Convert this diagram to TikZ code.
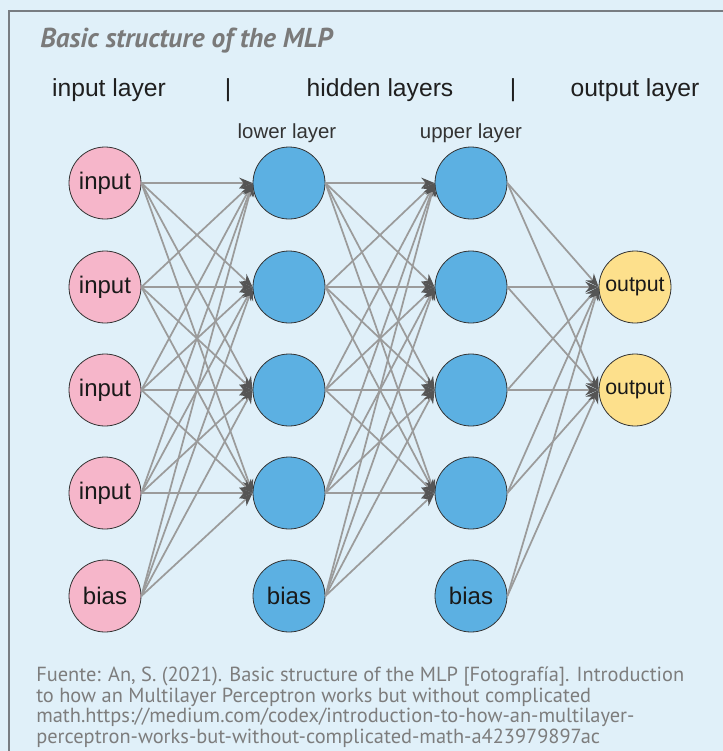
\documentclass[tikz,border=0pt]{standalone}
\usepackage{fontspec}
\setmainfont{Liberation Sans}
\newfontfamily\ptsans{PT Sans}
\usetikzlibrary{arrows.meta}
\definecolor{bgcol}{RGB}{224,240,249}
\definecolor{framecol}{RGB}{120,125,130}
\definecolor{pinkcol}{RGB}{246,182,202}
\definecolor{bluecol}{RGB}{92,176,226}
\definecolor{yellowcol}{RGB}{253,224,140}
\definecolor{edgecol}{RGB}{155,155,155}
\definecolor{tipcol}{RGB}{85,85,85}
\definecolor{txtgray}{RGB}{125,125,125}
\definecolor{titlegray}{RGB}{122,122,122}
\begin{document}
\begin{tikzpicture}[x=0.75pt,y=-0.75pt,
  neuron/.style={circle, draw=black!80, line width=0.6pt, minimum size=54pt, inner sep=0pt, text=black!90, font=\fontsize{18}{20}\selectfont},
  inneuron/.style={neuron, fill=pinkcol},
  hidneuron/.style={neuron, fill=bluecol},
  outneuron/.style={neuron, fill=yellowcol, font=\fontsize{16}{18}\selectfont},
  edge/.style={draw=edgecol, line width=1.3pt, -{Stealth[length=10pt,width=8pt,color=tipcol]}},
  header/.style={font=\fontsize{18.5}{20}\selectfont, text=black!88, inner sep=0pt},
  subheader/.style={font=\fontsize{15.3}{17}\selectfont, text=black!80, inner sep=0pt}
]
\fill[bgcol] (0,0) rectangle (723,751);
\useasboundingbox (0,0) rectangle (723,751);
\draw[framecol, line width=1.2pt] (723,11) -- (9,11) -- (9,751);

\node[anchor=west, inner sep=0pt, text=titlegray, font=\ptsans\bfseries\itshape\fontsize{20.5}{22}\selectfont] (title) at (40,41) {Basic structure of the MLP};

\node[header] (hin) at (109,90) {input layer};
\node[header] (sep1) at (228,90) {|};
\node[header] (hhid) at (380,90) {hidden layers};
\node[header] (sep2) at (513,90) {|};
\node[header] (hout) at (635,90) {output layer};
\node[subheader] (hlow) at (287,133) {lower layer};
\node[subheader] (hup) at (471,133) {upper layer};

\foreach \k/\y in {1/183,2/287,3/390,4/493}{
  \node[inneuron] (a\k) at (105,\y) {input};
  \node[hidneuron] (b\k) at (289,\y) {};
  \node[hidneuron] (c\k) at (471,\y) {};
}
\node[inneuron] (a5) at (105,596) {bias};
\node[hidneuron] (b5) at (289,596) {bias};
\node[hidneuron] (c5) at (471,596) {bias};
\node[outneuron] (d1) at (635,287) {output};
\node[outneuron] (d2) at (635,390) {output};

\foreach \i in {1,...,5}{
  \foreach \j in {1,...,4}{
    \draw[edge] (a\i.east) -- (b\j.west);
    \draw[edge] (b\i.east) -- (c\j.west);
  }
  \foreach \j in {1,2}{
    \draw[edge] (c\i.east) -- (d\j.west);
  }
}

\node[anchor=north west, inner sep=0pt, align=left, text=txtgray, font=\ptsans\fontsize{15.3}{15.3}\selectfont] (cap) at (36,667)
{Fuente: An, S. (2021). Basic structure of the MLP [Fotografía]. Introduction\\
to how an Multilayer Perceptron works but without complicated\\
math.https://medium.com/codex/introduction-to-how-an-multilayer-\\
perceptron-works-but-without-complicated-math-a423979897ac};
\end{tikzpicture}
\end{document}
